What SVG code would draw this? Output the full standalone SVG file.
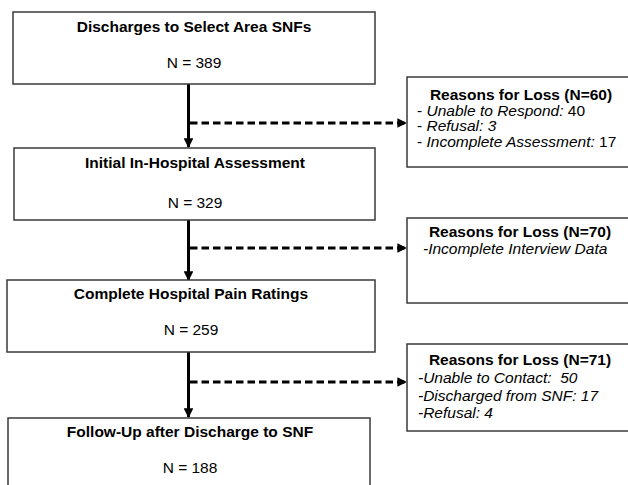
<svg xmlns="http://www.w3.org/2000/svg" width="628" height="485" viewBox="0 0 628 485">
<defs>
<style>
.box{fill:#fff;stroke:#3a3a3a;stroke-width:1.5}
text{font-family:"Liberation Sans",Arial,sans-serif;font-size:15.5px;fill:#000}
.b{font-weight:bold}
.c{text-anchor:middle}
.i{font-style:italic}
.solid{stroke:#000;stroke-width:3;fill:none}
.dash{stroke:#000;stroke-width:3;fill:none;stroke-dasharray:7.5 4}
</style>
<marker id="ah" viewBox="0 0 10 10" refX="9" refY="5" markerWidth="3.2" markerHeight="3.2" orient="auto" markerUnits="strokeWidth">
<path d="M0,0 L10,5 L0,10 z" fill="#000"/>
</marker>
</defs>
<rect width="628" height="485" fill="#fff"/>
<g id="connectors">
<line class="solid" x1="188.5" y1="84" x2="188.5" y2="147" marker-end="url(#ah)"/>
<line class="solid" x1="188.5" y1="220" x2="188.5" y2="280" marker-end="url(#ah)"/>
<line class="solid" x1="188.5" y1="352" x2="188.5" y2="417" marker-end="url(#ah)"/>
<line class="dash" x1="190" y1="123" x2="406" y2="123" marker-end="url(#ah)"/>
<line class="dash" x1="190" y1="248" x2="406" y2="248" marker-end="url(#ah)"/>
<line class="dash" x1="190" y1="382" x2="406" y2="382" marker-end="url(#ah)"/>
</g>
<g id="n1">
<rect class="box" x="13" y="12" width="362" height="72"/>
<text class="b c" x="194" y="32">Discharges to Select Area SNFs</text>
<text class="c" x="194" y="68">N = 389</text>
</g>
<g id="n2">
<rect class="box" x="14" y="148" width="361" height="72"/>
<text class="b c" x="195" y="168">Initial In-Hospital Assessment</text>
<text class="c" x="195" y="208">N = 329</text>
</g>
<g id="n3">
<rect class="box" x="7" y="280" width="368" height="72"/>
<text class="b c" x="191" y="299">Complete Hospital Pain Ratings</text>
<text class="c" x="191" y="335">N = 259</text>
</g>
<g id="n4">
<rect class="box" x="8" y="418" width="362" height="80"/>
<text class="b c" x="190" y="437">Follow-Up after Discharge to SNF</text>
<text class="c" x="190" y="473">N = 188</text>
</g>
<g id="r1">
<rect class="box" x="407" y="77" width="228" height="90"/>
<text class="b c" x="521" y="99.5">Reasons for Loss (N=60)</text>
<text x="417" y="115.5">- <tspan class="i">Unable to Respond:</tspan> 40</text>
<text x="417" y="131">- <tspan class="i">Refusal: 3</tspan></text>
<text x="417" y="146.5">- <tspan class="i">Incomplete Assessment:</tspan> 17</text>
</g>
<g id="r2">
<rect class="box" x="407" y="218" width="228" height="85"/>
<text class="b c" x="520" y="237">Reasons for Loss (N=70)</text>
<text class="i" x="423" y="254">-Incomplete Interview Data</text>
</g>
<g id="r3">
<rect class="box" x="407" y="344" width="228" height="87"/>
<text class="b c" x="520" y="365">Reasons for Loss (N=71)</text>
<text class="i" x="418" y="383">-Unable to Contact:&#160; 50</text>
<text class="i" x="418" y="400.5">-Discharged from SNF: 17</text>
<text class="i" x="418" y="418">-Refusal: 4</text>
</g>
</svg>
